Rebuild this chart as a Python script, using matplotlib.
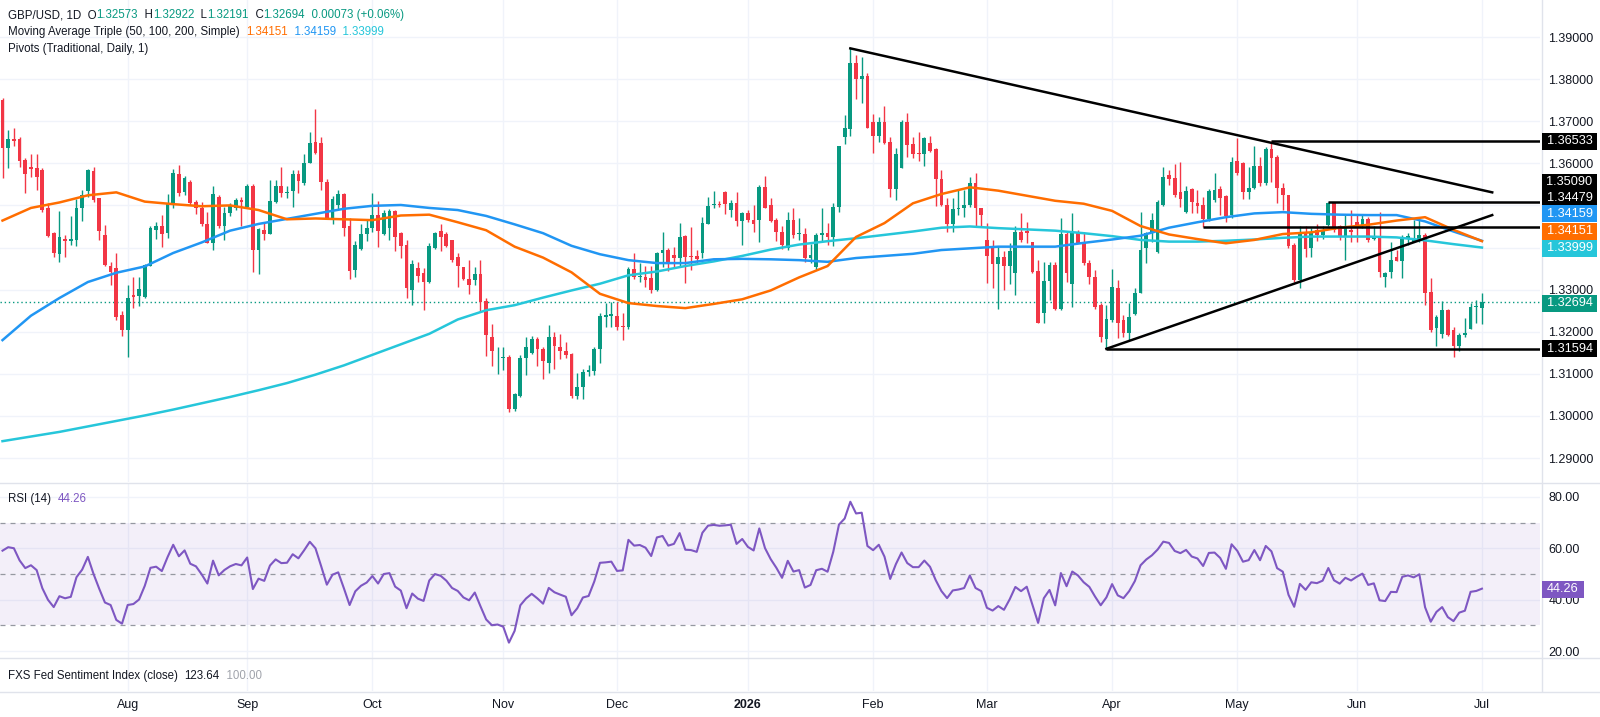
import matplotlib
matplotlib.use("Agg")
import matplotlib.pyplot as plt
from matplotlib.patches import Rectangle
from matplotlib.ticker import FormatStrFormatter, FuncFormatter
import numpy as np
import pandas as pd

W, H = 1600, 717
FONT = ['Liberation Sans', 'DejaVu Sans']
plt.rcParams['font.family'] = FONT

UP = '#089981'
DOWN = '#F23645'
TXT = '#131722'
GRID = '#f0f3fa'
SEP = '#e0e3eb'

# daily bars, GBP/USD
dates = pd.bdate_range('2025-07-02', '2026-07-01')

opens = [1.3750, 1.3637, 1.3657, 1.3657, 1.3608, 1.3592, 1.3588, 1.3583, 1.3495, 1.3434,
         1.3385, 1.3420, 1.3415, 1.3418, 1.3493, 1.3534, 1.3582, 1.3517, 1.3430, 1.3357,
         1.3351, 1.3240, 1.3205, 1.3287, 1.3285, 1.3283, 1.3357, 1.3442, 1.3452, 1.3434,
         1.3501, 1.3575, 1.3531, 1.3555, 1.3509, 1.3493, 1.3457, 1.3411, 1.3519, 1.3452,
         1.3481, 1.3495, 1.3513, 1.3497, 1.3546, 1.3393, 1.3442, 1.3432, 1.3507, 1.3546,
         1.3529, 1.3534, 1.3574, 1.3554, 1.3600, 1.3651, 1.3648, 1.3555, 1.3469, 1.3501,
         1.3526, 1.3450, 1.3347, 1.3396, 1.3432, 1.3446, 1.3477, 1.3431, 1.3446, 1.3487,
         1.3434, 1.3406, 1.3299, 1.3351, 1.3340, 1.3319, 1.3400, 1.3439, 1.3432, 1.3418,
         1.3378, 1.3353, 1.3325, 1.3323, 1.3336, 1.3274, 1.3188, 1.3153, 1.3137, 1.3141,
         1.3016, 1.3047, 1.3137, 1.3149, 1.3182, 1.3160, 1.3126, 1.3187, 1.3164, 1.3155,
         1.3147, 1.3047, 1.3068, 1.3105, 1.3107, 1.3160, 1.3236, 1.3237, 1.3238, 1.3214,
         1.3210, 1.3348, 1.3329, 1.3331, 1.3327, 1.3299, 1.3386, 1.3394, 1.3382, 1.3374,
         1.3427, 1.3380, 1.3380, 1.3386, 1.3457, 1.3501, 1.3503, 1.3533, 1.3488, 1.3506,
         1.3464, 1.3483, 1.3465, 1.3465, 1.3544, 1.3501, 1.3465, 1.3438, 1.3398, 1.3465,
         1.3431, 1.3433, 1.3374, 1.3354, 1.3430, 1.3435, 1.3424, 1.3497, 1.3663, 1.3681,
         1.3839, 1.3800, 1.3807, 1.3699, 1.3665, 1.3699, 1.3651, 1.3538, 1.3590, 1.3699,
         1.3646, 1.3625, 1.3622, 1.3649, 1.3633, 1.3563, 1.3501, 1.3457, 1.3491, 1.3493,
         1.3501, 1.3554, 1.3493, 1.3419, 1.3403, 1.3362, 1.3378, 1.3356, 1.3340, 1.3438,
         1.3440, 1.3412, 1.3344, 1.3244, 1.3320, 1.3358, 1.3255, 1.3432, 1.3313, 1.3438,
         1.3414, 1.3364, 1.3331, 1.3263, 1.3182, 1.3228, 1.3303, 1.3228, 1.3196, 1.3243,
         1.3293, 1.3398, 1.3435, 1.3390, 1.3501, 1.3572, 1.3564, 1.3533, 1.3485, 1.3538,
         1.3505, 1.3501, 1.3468, 1.3513, 1.3540, 1.3522, 1.3477, 1.3606, 1.3600, 1.3533,
         1.3541, 1.3594, 1.3554, 1.3633, 1.3616, 1.3541, 1.3525, 1.3406, 1.3324, 1.3434,
         1.3400, 1.3442, 1.3430, 1.3454, 1.3505, 1.3450, 1.3424, 1.3442, 1.3461, 1.3454,
         1.3467, 1.3420, 1.3424, 1.3331, 1.3343, 1.3378, 1.3369, 1.3420, 1.3414, 1.3416,
         1.3430, 1.3295, 1.3208, 1.3194, 1.3252, 1.3204, 1.3166, 1.3192, 1.3206, 1.3259,
         1.32573]

highs = [1.3756, 1.3679, 1.3683, 1.3663, 1.3612, 1.3622, 1.3622, 1.3588, 1.3505, 1.3436,
         1.3487, 1.3430, 1.3475, 1.3515, 1.3537, 1.3587, 1.3591, 1.3518, 1.3453, 1.3366,
         1.3388, 1.3250, 1.3311, 1.3330, 1.3330, 1.3362, 1.3450, 1.3461, 1.3477, 1.3527,
         1.3586, 1.3596, 1.3570, 1.3560, 1.3513, 1.3509, 1.3485, 1.3546, 1.3525, 1.3497,
         1.3505, 1.3517, 1.3521, 1.3551, 1.3551, 1.3446, 1.3461, 1.3560, 1.3560, 1.3592,
         1.3545, 1.3584, 1.3584, 1.3622, 1.3675, 1.3728, 1.3663, 1.3563, 1.3522, 1.3537,
         1.3529, 1.3471, 1.3416, 1.3457, 1.3467, 1.3529, 1.3511, 1.3489, 1.3491, 1.3489,
         1.3438, 1.3419, 1.3370, 1.3366, 1.3351, 1.3410, 1.3438, 1.3456, 1.3438, 1.3419,
         1.3388, 1.3354, 1.3370, 1.3354, 1.3370, 1.3279, 1.3218, 1.3164, 1.3164, 1.3145,
         1.3054, 1.3144, 1.3188, 1.3190, 1.3188, 1.3164, 1.3216, 1.3200, 1.3195, 1.3176,
         1.3149, 1.3101, 1.3111, 1.3120, 1.3164, 1.3244, 1.3267, 1.3271, 1.3271, 1.3245,
         1.3354, 1.3386, 1.3364, 1.3357, 1.3356, 1.3390, 1.3438, 1.3398, 1.3402, 1.3459,
         1.3430, 1.3448, 1.3394, 1.3473, 1.3521, 1.3535, 1.3510, 1.3534, 1.3514, 1.3533,
         1.3485, 1.3490, 1.3501, 1.3548, 1.3570, 1.3517, 1.3469, 1.3450, 1.3485, 1.3495,
         1.3469, 1.3446, 1.3408, 1.3435, 1.3493, 1.3459, 1.3505, 1.3642, 1.3715, 1.3873,
         1.3857, 1.3852, 1.3815, 1.3717, 1.3709, 1.3736, 1.3663, 1.3636, 1.3703, 1.3719,
         1.3663, 1.3675, 1.3663, 1.3665, 1.3636, 1.3584, 1.3517, 1.3517, 1.3537, 1.3537,
         1.3568, 1.3576, 1.3495, 1.3459, 1.3419, 1.3403, 1.3392, 1.3410, 1.3450, 1.3483,
         1.3461, 1.3414, 1.3370, 1.3366, 1.3366, 1.3366, 1.3471, 1.3438, 1.3481, 1.3442,
         1.3438, 1.3370, 1.3347, 1.3267, 1.3263, 1.3348, 1.3323, 1.3240, 1.3267, 1.3303,
         1.3485, 1.3438, 1.3481, 1.3513, 1.3592, 1.3584, 1.3598, 1.3602, 1.3547, 1.3542,
         1.3537, 1.3521, 1.3538, 1.3578, 1.3545, 1.3525, 1.3616, 1.3659, 1.3604, 1.3592,
         1.3640, 1.3616, 1.3638, 1.36533, 1.3620, 1.3554, 1.3525, 1.3410, 1.3450, 1.3450,
         1.3446, 1.3455, 1.3452, 1.35090, 1.3509, 1.3454, 1.3477, 1.3489, 1.3480, 1.3480,
         1.3473, 1.3450, 1.3485, 1.3343, 1.3414, 1.3394, 1.3430, 1.3434, 1.3465, 1.3465,
         1.3434, 1.3327, 1.3240, 1.3273, 1.3253, 1.3210, 1.3196, 1.3232, 1.3267, 1.3275,
         1.32922]

lows = [1.3564, 1.3588, 1.3640, 1.3592, 1.3529, 1.3568, 1.3537, 1.3484, 1.3426, 1.3378,
        1.3366, 1.3378, 1.3406, 1.3404, 1.3464, 1.3521, 1.3507, 1.3419, 1.3355, 1.3311,
        1.3228, 1.3190, 1.3141, 1.3256, 1.3260, 1.3279, 1.3355, 1.3420, 1.3402, 1.3422,
        1.3495, 1.3523, 1.3525, 1.3500, 1.3479, 1.3450, 1.3410, 1.3393, 1.3446, 1.3419,
        1.3475, 1.3488, 1.3450, 1.3493, 1.3343, 1.3336, 1.3419, 1.3432, 1.3505, 1.3519,
        1.3517, 1.3497, 1.3529, 1.3549, 1.3600, 1.3622, 1.3537, 1.3467, 1.3455, 1.3488,
        1.3427, 1.3325, 1.3331, 1.3394, 1.3415, 1.3438, 1.3402, 1.3430, 1.3419, 1.3392,
        1.3374, 1.3281, 1.3263, 1.3319, 1.3251, 1.3316, 1.3396, 1.3392, 1.3402, 1.3366,
        1.3307, 1.3324, 1.3290, 1.3311, 1.3250, 1.3142, 1.3118, 1.3099, 1.3109, 1.3010,
        1.3012, 1.3046, 1.3096, 1.3147, 1.3118, 1.3087, 1.3103, 1.3111, 1.3134, 1.3138,
        1.3042, 1.3039, 1.3039, 1.3095, 1.3097, 1.3125, 1.3212, 1.3212, 1.3204, 1.3180,
        1.3206, 1.3325, 1.3319, 1.3307, 1.3291, 1.3297, 1.3354, 1.3345, 1.3354, 1.3354,
        1.3315, 1.3346, 1.3364, 1.3374, 1.3455, 1.3495, 1.3497, 1.3480, 1.3473, 1.3451,
        1.3406, 1.3460, 1.3438, 1.3414, 1.3493, 1.3461, 1.3416, 1.3396, 1.3394, 1.3422,
        1.3418, 1.3366, 1.3364, 1.3346, 1.3414, 1.3406, 1.3404, 1.3485, 1.3646, 1.3665,
        1.3752, 1.3744, 1.3683, 1.3625, 1.3651, 1.3646, 1.3521, 1.3513, 1.3588, 1.3614,
        1.3612, 1.3606, 1.3594, 1.3628, 1.3499, 1.3499, 1.3438, 1.3438, 1.3477, 1.3473,
        1.3497, 1.3450, 1.3450, 1.3316, 1.3303, 1.3255, 1.3299, 1.3313, 1.3287, 1.3414,
        1.3410, 1.3340, 1.3220, 1.3221, 1.3275, 1.3251, 1.3251, 1.3319, 1.3259, 1.3410,
        1.3358, 1.3313, 1.3255, 1.3176, 1.31594, 1.3224, 1.3184, 1.3188, 1.3180, 1.3240,
        1.3291, 1.3364, 1.3414, 1.3386, 1.3499, 1.3549, 1.3519, 1.3496, 1.3483, 1.3483,
        1.3481, 1.34479, 1.3464, 1.3509, 1.3477, 1.3461, 1.3469, 1.3572, 1.3515, 1.3515,
        1.3538, 1.3546, 1.3549, 1.3556, 1.3505, 1.3489, 1.3398, 1.3319, 1.3303, 1.3378,
        1.3378, 1.3416, 1.3420, 1.3450, 1.3438, 1.3418, 1.3370, 1.3414, 1.3414, 1.3446,
        1.3414, 1.3418, 1.3331, 1.3307, 1.3327, 1.3369, 1.3327, 1.3406, 1.3414, 1.3414,
        1.3263, 1.3200, 1.3166, 1.3184, 1.3190, 1.3141, 1.3153, 1.3188, 1.3206, 1.3220,
        1.32191]

closes = [1.3636, 1.3657, 1.3653, 1.3606, 1.3574, 1.3587, 1.3568, 1.3489, 1.3428, 1.3386,
          1.3426, 1.3415, 1.3420, 1.3493, 1.3525, 1.3584, 1.3513, 1.3440, 1.3359, 1.3343,
          1.3236, 1.3205, 1.3279, 1.3283, 1.3301, 1.3358, 1.3446, 1.3452, 1.3432, 1.3503,
          1.3578, 1.3529, 1.3564, 1.3505, 1.3493, 1.3456, 1.3411, 1.3527, 1.3452, 1.3481,
          1.3501, 1.3513, 1.3507, 1.3546, 1.3393, 1.3444, 1.3432, 1.3511, 1.3546, 1.3529,
          1.3531, 1.3575, 1.3559, 1.3600, 1.3648, 1.3625, 1.3556, 1.3469, 1.3515, 1.3526,
          1.3447, 1.3345, 1.3406, 1.3432, 1.3447, 1.3477, 1.3440, 1.3483, 1.3487, 1.3424,
          1.3404, 1.3303, 1.3362, 1.3332, 1.3319, 1.3404, 1.3434, 1.3426, 1.3404, 1.3370,
          1.3356, 1.3325, 1.3311, 1.3336, 1.3270, 1.3192, 1.3153, 1.3155, 1.3141, 1.3016,
          1.3051, 1.3138, 1.3164, 1.3182, 1.3158, 1.3130, 1.3187, 1.3166, 1.3155, 1.3145,
          1.3047, 1.3069, 1.3105, 1.3110, 1.3160, 1.3237, 1.3239, 1.3242, 1.3210, 1.3212,
          1.3348, 1.3329, 1.3332, 1.3324, 1.3299, 1.3386, 1.3394, 1.3366, 1.3374, 1.3426,
          1.3378, 1.3377, 1.3372, 1.3459, 1.3499, 1.3503, 1.3501, 1.3503, 1.3506, 1.3464,
          1.3483, 1.3465, 1.3457, 1.3544, 1.3495, 1.3464, 1.3438, 1.3406, 1.3465, 1.3430,
          1.3435, 1.3374, 1.3382, 1.3430, 1.3435, 1.3426, 1.3497, 1.3640, 1.3683, 1.3839,
          1.3800, 1.3807, 1.3683, 1.3665, 1.3699, 1.3649, 1.3538, 1.3622, 1.3699, 1.3644,
          1.3622, 1.3622, 1.3659, 1.3630, 1.3563, 1.3501, 1.3457, 1.3491, 1.3495, 1.3501,
          1.3554, 1.3493, 1.3477, 1.3380, 1.3362, 1.3378, 1.3356, 1.3392, 1.3438, 1.3418,
          1.3434, 1.3343, 1.3221, 1.3320, 1.3358, 1.3255, 1.3432, 1.3340, 1.3438, 1.3411,
          1.3364, 1.3331, 1.3259, 1.3187, 1.3229, 1.3305, 1.3220, 1.3198, 1.3236, 1.3293,
          1.3394, 1.3435, 1.3465, 1.3507, 1.3568, 1.3562, 1.3525, 1.3515, 1.3535, 1.3507,
          1.3499, 1.3468, 1.3535, 1.3537, 1.3517, 1.3475, 1.3604, 1.3578, 1.3533, 1.3541,
          1.3594, 1.3554, 1.3633, 1.3612, 1.3541, 1.3525, 1.3404, 1.3324, 1.3434, 1.3396,
          1.3435, 1.3430, 1.3442, 1.3505, 1.3442, 1.3424, 1.3451, 1.3438, 1.3454, 1.3467,
          1.3418, 1.3424, 1.3343, 1.3339, 1.3370, 1.3369, 1.3422, 1.3427, 1.3420, 1.3430,
          1.3293, 1.3204, 1.3236, 1.3252, 1.3192, 1.3166, 1.3192, 1.3198, 1.3259, 1.3262,
          1.32694]

# moving averages, read every 5th bar
ma_step = 5
ma50 = [1.3464, 1.3494, 1.3507, 1.3524, 1.3531, 1.3509, 1.3503, 1.3498, 1.3500, 1.3489,
        1.3467, 1.3469, 1.3467, 1.3465, 1.3476, 1.3478, 1.3460, 1.3441, 1.3402, 1.3376,
        1.3341, 1.3290, 1.3268, 1.3261, 1.3256, 1.3266, 1.3277, 1.3298, 1.3329, 1.3356,
        1.3425, 1.3458, 1.3505, 1.3527, 1.3543, 1.3535, 1.3523, 1.3511, 1.3504, 1.3487,
        1.3451, 1.3431, 1.3420, 1.3410, 1.3418, 1.3432, 1.3436, 1.3447, 1.3454, 1.3464,
        1.3472, 1.3442, 1.34151]
ma100 = [1.3180, 1.3238, 1.3280, 1.3318, 1.3340, 1.3355, 1.3387, 1.3412, 1.3440, 1.3456,
         1.3468, 1.3480, 1.3492, 1.3499, 1.3501, 1.3494, 1.3489, 1.3475, 1.3455, 1.3434,
         1.3404, 1.3384, 1.3370, 1.3363, 1.3363, 1.3372, 1.3373, 1.3372, 1.3370, 1.3366,
         1.3375, 1.3380, 1.3385, 1.3394, 1.3398, 1.3402, 1.3402, 1.3402, 1.3411, 1.3419,
         1.3428, 1.3447, 1.3460, 1.3472, 1.3481, 1.3484, 1.3480, 1.3478, 1.3477, 1.3477,
         1.3462, 1.3438, 1.34159]
ma200 = [1.2940, 1.2951, 1.2962, 1.2975, 1.2988, 1.3001, 1.3015, 1.3030, 1.3045, 1.3061,
         1.3078, 1.3098, 1.3120, 1.3145, 1.3170, 1.3195, 1.3229, 1.3251, 1.3263, 1.3281,
         1.3298, 1.3314, 1.3334, 1.3343, 1.3356, 1.3367, 1.3380, 1.3395, 1.3407, 1.3415,
         1.3422, 1.3430, 1.3438, 1.3447, 1.3450, 1.3446, 1.3443, 1.3440, 1.3434, 1.3427,
         1.3418, 1.3414, 1.3414, 1.3416, 1.3419, 1.3423, 1.3426, 1.3426, 1.3426, 1.3424,
         1.3417, 1.3408, 1.33999]

# drawn levels: (first bar, price)
pivots = [(223, 1.36533), (233, 1.35090), (211, 1.34479), (194, 1.31594)]
trend_down = [(149, 1.3873), (261.8, 1.3531)]
trend_up = [(194, 1.31594), (261.8, 1.3477)]
last_close = 1.32694

# RSI 14 (Wilder smoothing) of the closes; average gain / loss carried in
# from the days before the first bar
rsi_avg_gain0 = 0.0030
rsi_avg_loss0 = 0.0012
c = np.array(closes)
d = np.diff(np.concatenate([[opens[0]], c]))
ag, al = rsi_avg_gain0, rsi_avg_loss0
rsi = []
for step in d:
    ag = (ag * 13 + max(step, 0)) / 14
    al = (al * 13 + max(-step, 0)) / 14
    rsi.append(100 - 100 / (1 + ag / al))
rsi = np.array(rsi)

# ---------------------------------------------------------------
fig = plt.figure(figsize=(W / 100, H / 100), dpi=100)
fig.patch.set_facecolor('white')


def fy(y):
    return 1 - y / H


PLOT_R = 1540
ax = fig.add_axes([0, fy(482), PLOT_R / W, 482 / H])
ax_rsi = fig.add_axes([0, fy(657), PLOT_R / W, (657 - 483) / H])
ax_fed = fig.add_axes([0, fy(691), PLOT_R / W, (691 - 657) / H])

x = np.arange(len(dates))
month_idx = [i for i in range(1, len(dates)) if dates[i].month != dates[i - 1].month]
month_lab = ['2026' if dates[i].month == 1 else dates[i].strftime('%b') for i in month_idx]
XL = (-0.44, 270.2)

for a in (ax, ax_rsi, ax_fed):
    a.set_xlim(*XL)
    for s in a.spines.values():
        s.set_visible(False)
    a.set_xticks(month_idx)
    a.set_xticklabels([])
    a.tick_params(length=0, labelsize=9, colors=TXT)
    a.grid(axis='x', color=GRID, lw=1, zorder=0)
    a.set_axisbelow(True)

# candles
o = np.array(opens)
h = np.array(highs)
l = np.array(lows)
up = c >= o
col = np.where(up, UP, DOWN)
ax.vlines(x, l, h, colors=col, lw=1, zorder=3)
body = np.maximum(np.abs(c - o), 0.00012)
ax.bar(x, body, bottom=np.minimum(o, c), width=0.66, color=col, linewidth=0, zorder=4)

xm = x[::ma_step]
ax.plot(xm, ma200, color='#26C6DA', lw=1.8, zorder=5)
ax.plot(xm, ma100, color='#2196F3', lw=1.8, zorder=5)
ax.plot(xm, ma50, color='#FF6D00', lw=1.8, zorder=5)

ax.axhline(last_close, color=UP, lw=1, ls=(0, (1, 2)), zorder=2)
for i0, lev in pivots:
    ax.hlines(lev, i0, XL[1], color='black', lw=1.8, zorder=6)
for seg in (trend_down, trend_up):
    ax.plot([seg[0][0], seg[1][0]], [seg[0][1], seg[1][1]], color='black', lw=1.8, zorder=6)

ax.set_ylim(1.28430, 1.39879)
ax.yaxis.tick_right()
ax.set_yticks(np.arange(1.29, 1.3901, 0.01))
# 1.34 and 1.35 sit under the level boxes
hidden = (1.34, 1.35)
ax.yaxis.set_major_formatter(FuncFormatter(
    lambda v, p: '' if any(abs(v - hv) < 1e-6 for hv in hidden) else '%.5f' % v))
ax.tick_params(axis='y', pad=6)
ax.grid(axis='y', color=GRID, lw=1, zorder=0)

# RSI
ax_rsi.axhspan(30, 70, color='#7e57c2', alpha=0.09, lw=0)
for lev in (70, 50, 30):
    ax_rsi.axhline(lev, color='#9598a1', lw=0.9, ls=(0, (4, 4)))
ax_rsi.plot(x, rsi, color='#7e57c2', lw=1.5, zorder=5)
ax_rsi.set_ylim(17.67, 85.45)
ax_rsi.yaxis.tick_right()
ax_rsi.set_yticks([20, 40, 60, 80])
ax_rsi.yaxis.set_major_formatter(FormatStrFormatter('%.2f'))
ax_rsi.tick_params(axis='y', pad=6)
ax_rsi.grid(axis='y', color=GRID, lw=1)

ax_fed.set_yticks([])
ax_fed.set_ylim(0, 1)
ax_fed.set_xticklabels(month_lab)
ax_fed.tick_params(axis='x', pad=6, labelsize=9)
for t in ax_fed.get_xticklabels():
    if t.get_text() == '2026':
        t.set_fontweight('bold')

# panel separators
for yy in (482.5, 657.5, 691.5):
    fig.add_artist(plt.Line2D([0, 1], [fy(yy), fy(yy)], color=SEP, lw=1))
fig.add_artist(plt.Line2D([1541.5 / W, 1541.5 / W], [fy(0), fy(691)], color=SEP, lw=1))


def price_box(y, text, color):
    fig.add_artist(Rectangle((1542 / W, fy(y + 8.5)), 55 / W, 17 / H, transform=fig.transFigure,
                             facecolor=color, edgecolor='none', zorder=10))
    fig.text(1569.5 / W, fy(y), text, color='white', fontsize=9.2, ha='center', va='center', zorder=11)


price_box(141, '1.36533', '#000000')
price_box(182, '1.35090', '#000000')
price_box(198, '1.34479', '#000000')
price_box(214, '1.34159', '#2196F3')
price_box(231, '1.34151', '#FF6D00')
price_box(248, '1.33999', '#26C6DA')
price_box(303, '1.32694', UP)
price_box(349, '1.31594', '#000000')

fig.add_artist(Rectangle((1542 / W, fy(589 + 8.5)), 42 / W, 17 / H, transform=fig.transFigure,
                         facecolor='#7e57c2', edgecolor='none', zorder=10))
fig.text(1563 / W, fy(589), '44.26', color='white', fontsize=9.2, ha='center', va='center', zorder=11)

renderer = fig.canvas.get_renderer()


def text_row(x0, y, parts, size=8.3):
    xx = x0
    for s, color in parts:
        t = fig.text(xx / W, fy(y), s, color=color, fontsize=size, ha='left', va='center')
        xx += t.get_window_extent(renderer=renderer).width


text_row(8, 15, [('GBP/USD, 1D  O', TXT), ('1.32573', UP), ('  H', TXT), ('1.32922', UP),
                 ('  L', TXT), ('1.32191', UP), ('  C', TXT), ('1.32694', UP),
                 ('  0.00073 (+0.06%)', UP)])
text_row(8, 32, [('Moving Average Triple (50, 100, 200, Simple)  ', TXT), ('1.34151', '#FF6D00'),
                 ('  1.34159', '#2196F3'), ('  1.33999', '#26C6DA')])
text_row(8, 49, [('Pivots (Traditional, Daily, 1)', TXT)])
text_row(8, 499, [('RSI (14)  ', TXT), ('44.26', '#7e57c2')])
text_row(8, 676, [('FXS Fed Sentiment Index (close)  ', TXT), ('123.64', TXT), ('  100.00', '#a0a3ab')])

fig.savefig('out.png', dpi=100, facecolor='white')
